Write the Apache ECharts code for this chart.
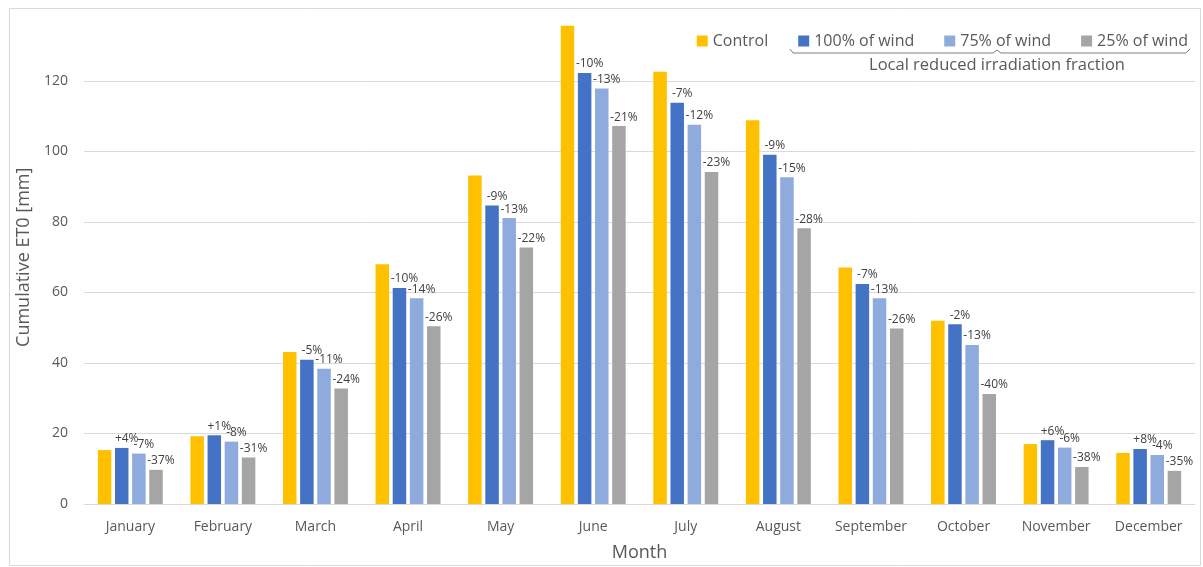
<!DOCTYPE html>
<html>
<head>
<meta charset="utf-8">
<script src="https://cdn.jsdelivr.net/npm/echarts@6/dist/echarts.min.js"></script>
<style>
  html, body { margin: 0; padding: 0; background: #ffffff; }
  #chart { width: 1203px; height: 567px; }
</style>
</head>
<body>
<div id="chart"></div>
<script>
// Monthly cumulative reference evapotranspiration (ET0) per scenario
const months = ['January', 'February', 'March', 'April', 'May', 'June',
  'July', 'August', 'September', 'October', 'November', 'December'];

const control = [15.3, 19.2, 43.1, 68.0, 93.2, 135.7, 122.6, 108.9, 67.1, 52.0, 17.0, 14.5];
const wind100 = [15.9, 19.5, 40.9, 61.3, 84.7, 122.3, 113.8, 99.1, 62.4, 51.0, 18.1, 15.6];
const wind75  = [14.3, 17.7, 38.4, 58.4, 81.1, 117.9, 107.6, 92.7, 58.4, 45.1, 16.0, 13.9];
const wind25  = [9.7, 13.2, 32.8, 50.4, 72.8, 107.2, 94.2, 78.2, 49.8, 31.2, 10.5, 9.4];

// Change relative to the control run, printed above each bar
const pct100 = ['+4%', '+1%', '-5%', '-10%', '-9%', '-10%', '-7%', '-9%', '-7%', '-2%', '+6%', '+8%'];
const pct75  = ['-7%', '-8%', '-11%', '-14%', '-13%', '-13%', '-12%', '-15%', '-13%', '-13%', '-6%', '-4%'];
const pct25  = ['-37%', '-31%', '-24%', '-26%', '-22%', '-21%', '-23%', '-28%', '-26%', '-40%', '-38%', '-35%'];

const seriesNames = ['Control', '100% of wind', '75% of wind', '25% of wind'];
const colors = ['#FFC000', '#4472C4', '#8FAADC', '#A5A5A5'];

const FONT = '"Open Sans", "Noto Sans", sans-serif';
const TEXT = '#595959';

function pctLabel(list) {
  return {
    show: true,
    position: 'top',
    distance: 3,
    offset: [5, 0],
    color: '#404040',
    fontFamily: FONT,
    fontSize: 12,
    formatter: p => list[p.dataIndex]
  };
}

function barSeries(i, data, label) {
  const s = {
    name: seriesNames[i],
    type: 'bar',
    data: data,
    barWidth: 13.5,
    barGap: '27%',
    barCategoryGap: '30%',
    itemStyle: { color: colors[i] },
    emphasis: { disabled: true }
  };
  if (label) s.label = label;
  return s;
}

const chart = echarts.init(document.getElementById('chart'), null, { renderer: 'canvas' });

chart.setOption({
  animation: false,
  backgroundColor: '#ffffff',
  textStyle: { fontFamily: FONT },
  grid: { left: 84, right: 8, top: 10.5, bottom: 63, containLabel: false },
  legend: {
    data: seriesNames,
    top: 28,
    right: 10,
    icon: 'rect',
    itemWidth: 11,
    itemHeight: 11,
    itemGap: 30,
    textStyle: { color: TEXT, fontSize: 16, fontFamily: FONT }
  },
  xAxis: {
    type: 'category',
    data: months,
    name: 'Month',
    nameLocation: 'middle',
    nameGap: 40,
    nameTextStyle: { color: TEXT, fontSize: 18, fontFamily: FONT },
    axisLine: { lineStyle: { color: '#D9D9D9', width: 1 } },
    axisTick: { show: false },
    axisLabel: { color: TEXT, fontSize: 14, margin: 16, fontFamily: FONT, interval: 0, hideOverlap: false }
  },
  yAxis: {
    type: 'value',
    min: 0,
    max: 140,
    interval: 20,
    name: 'Cumulative ET0 [mm]',
    nameLocation: 'middle',
    nameGap: 48,
    nameTextStyle: { color: TEXT, fontSize: 18, fontFamily: FONT },
    axisLine: { show: false },
    axisTick: { show: false },
    axisLabel: { color: TEXT, fontSize: 14, margin: 16, fontFamily: FONT, showMaxLabel: false },
    splitLine: { show: true, showMaxLine: false, lineStyle: { color: '#D9D9D9', width: 1 } }
  },
  graphic: [
    {
      // chart frame
      type: 'rect',
      silent: true,
      shape: { x: 9.5, y: 8.5, width: 1191, height: 557 },
      style: { fill: 'none', stroke: '#D9D9D9', lineWidth: 1 }
    },
    {
      // brace grouping the three wind scenarios
      type: 'polyline',
      silent: true,
      shape: {
        points: [[790, 49], [793, 53], [993, 53], [997, 50], [1001, 53], [1186, 53], [1190, 49]]
      },
      style: { fill: 'none', stroke: '#7F7F7F', lineWidth: 1 }
    },
    {
      type: 'text',
      silent: true,
      style: {
        x: 997,
        y: 65,
        text: 'Local reduced irradiation fraction',
        align: 'center',
        verticalAlign: 'middle',
        fill: TEXT,
        font: '16.5px ' + FONT
      }
    }
  ],
  series: [
    barSeries(0, control),
    barSeries(1, wind100, pctLabel(pct100)),
    barSeries(2, wind75, pctLabel(pct75)),
    barSeries(3, wind25, pctLabel(pct25))
  ]
});
</script>
</body>
</html>
